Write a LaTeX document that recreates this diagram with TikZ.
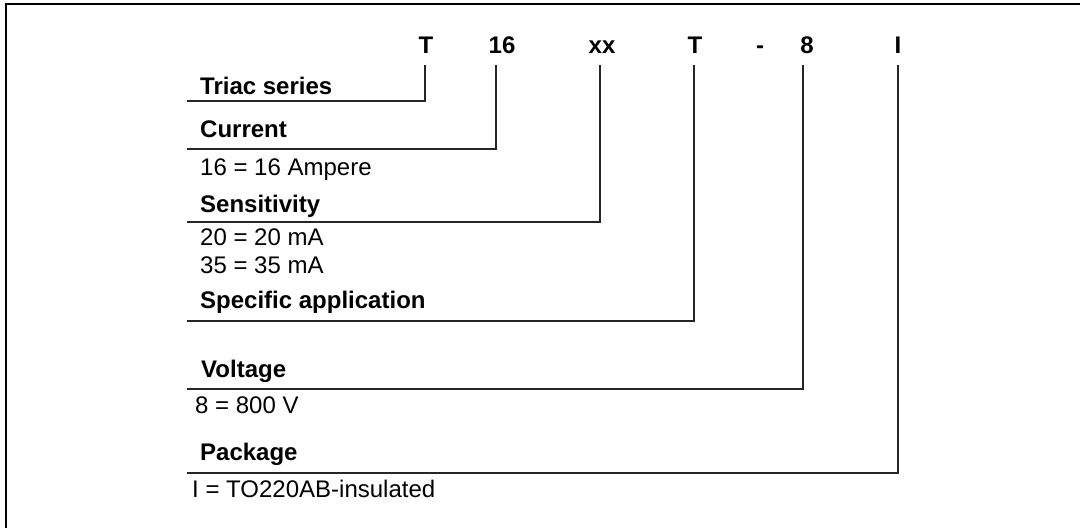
\documentclass[tikz,border=0pt]{standalone}
\usepackage{fontspec}
\setmainfont{Liberation Sans}

\begin{document}
\begin{tikzpicture}[x=1pt,y=-1pt,
   code/.style={font=\fontsize{24}{28}\selectfont\bfseries,inner sep=0pt,
     text height=16pt,text depth=0pt,anchor=base},
   head/.style={font=\fontsize{24}{28}\selectfont\bfseries,inner sep=0pt,anchor=base west},
   item/.style={font=\fontsize{24}{28}\selectfont,inner sep=0pt,anchor=base west},
   conn/.style={draw=black!85,line width=2pt,line join=miter,shorten <=12pt}]
   \useasboundingbox (0,0) rectangle (1080,528);
   \draw[line width=2pt] (6,528) |- (1080,4);

   % Codice
   \node[code] (cT)   at (426,53) {T};
   \node[code] (c16)  at (502,53) {16};
   \node[code] (cxx)  at (602,53) {xx};
   \node[code] (cT2)  at (695,53) {T};
   \node[code] (cdash) at (760,53) {-};
   \node[code] (c8)   at (807,53) {8};
   \node[code] (cI)   at (898,53) {I};

   % Legenda
   \node[head] (triac) at (200,94)  {Triac series};
   \node[head] (curr)  at (200,137) {Current};
   \node[item] (amp)   at (200,175) {16 = 16 Ampere};
   \node[head] (sens)  at (200,212) {Sensitivity};
   \node[item] (ma20)  at (200,245) {20 = 20 mA};
   \node[item] (ma35)  at (200,273) {35 = 35 mA};
   \node[head] (appl)  at (200,308) {Specific application};
   \node[head] (volt)  at (201,377) {Voltage};
   \node[item] (v800)  at (195,413) {8 = 800 V};
   \node[head] (pack)  at (200,460) {Package};
   \node[item] (ins)   at (192,497) {I = TO220AB-insulated};

   % Estremi delle linee
   \coordinate (eT)  at (187,101);
   \coordinate (e16) at (187,149);
   \coordinate (exx) at (187,222);
   \coordinate (eT2) at (187,321);
   \coordinate (e8)  at (187,389);
   \coordinate (eI)  at (187,473);

   \foreach \c/\e/\dx in {cT/eT/-1, c16/e16/-6, cxx/exx/-2, cT2/eT2/-1, c8/e8/-4, cI/eI/0}
     \draw[conn] ([xshift=\dx pt]\c.south) |- (\e);
\end{tikzpicture}
\end{document}
